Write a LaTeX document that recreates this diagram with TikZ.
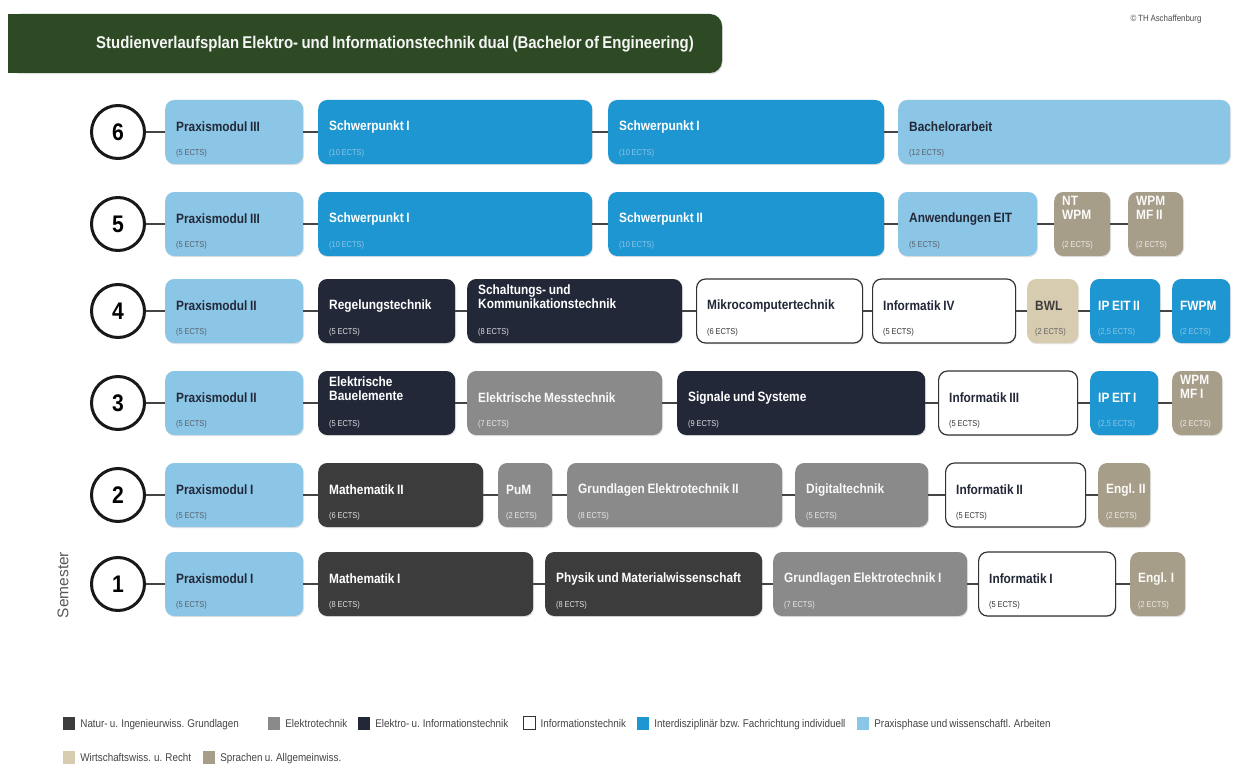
\documentclass[tikz,border=0pt]{standalone}
\usepackage{fontspec}
\setmainfont{Liberation Sans}[FakeStretch=0.88,WordSpace=0.8]
\newfontfamily\plainsans{Liberation Sans}
\usetikzlibrary{shadows}
\definecolor{hdrgreen}{HTML}{2E4A25}
\definecolor{cpr}{HTML}{8CC6E7}
\definecolor{cip}{HTML}{1E96D2}
\definecolor{cei}{HTML}{222838}
\definecolor{cng}{HTML}{3C3C3C}
\definecolor{cet}{HTML}{8A8A8A}
\definecolor{csp}{HTML}{A79E8A}
\definecolor{cwr}{HTML}{D8CCB0}
\definecolor{cinb}{HTML}{333333}
\definecolor{connc}{HTML}{444444}
\definecolor{legtxt}{HTML}{444444}
\tikzset{
  x=1pt, y=-1pt,
  modbox/.style={rectangle, rounded corners=9pt, minimum height=64pt, inner sep=0pt, draw=none,
    drop shadow={shadow xshift=0.8pt, shadow yshift=-1.2pt, opacity=0.22}},
  ttl/.style={inner sep=0pt, align=left, font=\fontsize{13.5}{14}\selectfont\bfseries},
  ects/.style={inner sep=0pt, font=\fontsize{8.5}{9}\selectfont},
  boxpr/.style={fill=cpr}, txpr/.style={text=cei}, expr/.style={text=cei!75},
  boxip/.style={fill=cip}, txip/.style={text=white}, exip/.style={text=cpr},
  boxei/.style={fill=cei}, txei/.style={text=white}, exei/.style={text=white!85!cei},
  boxng/.style={fill=cng}, txng/.style={text=white}, exng/.style={text=white!85!cng},
  boxet/.style={fill=cet}, txet/.style={text=white!95!cet}, exet/.style={text=white!80!cet},
  boxin/.style={fill=white, draw=cinb, line width=1.2pt}, txin/.style={text=cei}, exin/.style={text=cinb},
  boxsp/.style={fill=csp}, txsp/.style={text=white!95!csp}, exsp/.style={text=white!80!csp},
  boxwr/.style={fill=cwr}, txwr/.style={text=cng}, exwr/.style={text=cng!80},
  conn/.style={draw=connc, line width=1.8pt},
  semcirc/.style={circle, draw=black!90, line width=3pt, minimum size=53pt, inner sep=0pt,
    fill=white, font=\fontsize{24}{24}\selectfont\bfseries},
  legsq/.style={rectangle, minimum width=12pt, minimum height=13pt, inner sep=0pt},
  legtx/.style={inner sep=0pt, anchor=base west, text=legtxt, font=\fontsize{11.2}{12}\selectfont}
}
% #1 name #2 x1 #3 x2 #4 yc #5 cat #6 title #7 ects #8 title offset (up) #9 padding
\newcommand\modul[9]{%
  \pgfmathsetmacro\mw{#3-#2}%
  \node[modbox,box#5,minimum width=\mw pt,anchor=west] (#1) at (#2,#4) {};%
  \node[ttl,tx#5,anchor=west] at ([xshift=#9pt,yshift=#8pt]#1.west) {#6};%
  \node[ects,ex#5,anchor=west] at ([xshift=#9pt,yshift=-21pt]#1.west) {(#7)};%
}
\newcommand\legitem[5]{%
  \node[legsq,#3] (#5) at (#1,#2) {};%
  \node[legtx] at ([xshift=5pt,yshift=-4pt]#5.east) {#4};%
}
\begin{document}
\begin{tikzpicture}
\useasboundingbox (0,0) rectangle (1234,765);
\fill[white] (0,0) rectangle (1234,765);
% header
\fill[hdrgreen, rounded corners=12pt, drop shadow={shadow xshift=0.8pt, shadow yshift=-1.2pt, opacity=0.25}] (8,14) rectangle (722,73);
\fill[hdrgreen] (8,14) rectangle (60,73);
\node[text=white!95!hdrgreen, font=\fontsize{17}{18}\selectfont\bfseries] (hdr) at (395,44) {Studienverlaufsplan Elektro- und Informationstechnik dual (Bachelor of Engineering)};
\node[text=black!70, font=\fontsize{9}{10}\selectfont] (copy) at (1166,19) {© TH Aschaffenburg};
% Semester label
\node[rotate=90, text=black!65, font=\plainsans\fontsize{15.5}{16}\selectfont] (semlabel) at (63,585) {Semester};
% circles
\node[semcirc] (s6) at (118,132) {6};
\node[semcirc] (s5) at (118,224) {5};
\node[semcirc] (s4) at (118,311) {4};
\node[semcirc] (s3) at (118,403) {3};
\node[semcirc] (s2) at (118,495) {2};
\node[semcirc] (s1) at (118,584) {1};
% row 6
\modul{r6a}{165}{303}{132}{pr}{Praxismodul III}{5 ECTS}{5}{11}
\modul{r6b}{318}{592}{132}{ip}{Schwerpunkt I}{10 ECTS}{5}{11}
\modul{r6c}{608}{884}{132}{ip}{Schwerpunkt I}{10 ECTS}{5}{11}
\modul{r6d}{898}{1230}{132}{pr}{Bachelorarbeit}{12 ECTS}{5}{11}
% row 5
\modul{r5a}{165}{303}{224}{pr}{Praxismodul III}{5 ECTS}{5}{11}
\modul{r5b}{318}{592}{224}{ip}{Schwerpunkt I}{10 ECTS}{5}{11}
\modul{r5c}{608}{884}{224}{ip}{Schwerpunkt II}{10 ECTS}{5}{11}
\modul{r5d}{898}{1037}{224}{pr}{Anwendungen EIT}{5 ECTS}{5}{11}
\modul{r5e}{1054}{1110}{224}{sp}{NT\\WPM}{2 ECTS}{16}{8}
\modul{r5f}{1128}{1183}{224}{sp}{WPM\\MF II}{2 ECTS}{16}{8}
% row 4
\modul{r4a}{165}{303}{311}{pr}{Praxismodul II}{5 ECTS}{5}{11}
\modul{r4b}{318}{455}{311}{ei}{Regelungstechnik}{5 ECTS}{5}{11}
\modul{r4c}{467}{682}{311}{ei}{Schaltungs- und\\Kommunikationstechnik}{8 ECTS}{14}{11}
\modul{r4d}{696}{862}{311}{in}{Mikrocomputertechnik}{6 ECTS}{5}{11}
\modul{r4e}{872}{1015}{311}{in}{Informatik IV}{5 ECTS}{5}{11}
\modul{r4f}{1027}{1078}{311}{wr}{BWL}{2 ECTS}{5}{8}
\modul{r4g}{1090}{1160}{311}{ip}{IP EIT II}{2,5 ECTS}{5}{8}
\modul{r4h}{1172}{1230}{311}{ip}{FWPM}{2 ECTS}{5}{8}
% row 3
\modul{r3a}{165}{303}{403}{pr}{Praxismodul II}{5 ECTS}{5}{11}
\modul{r3b}{318}{455}{403}{ei}{Elektrische\\Bauelemente}{5 ECTS}{14}{11}
\modul{r3c}{467}{662}{403}{et}{Elektrische Messtechnik}{7 ECTS}{5}{11}
\modul{r3d}{677}{925}{403}{ei}{Signale und Systeme}{9 ECTS}{5}{11}
\modul{r3e}{938}{1077}{403}{in}{Informatik III}{5 ECTS}{5}{11}
\modul{r3f}{1090}{1158}{403}{ip}{IP EIT I}{2,5 ECTS}{5}{8}
\modul{r3g}{1172}{1222}{403}{sp}{WPM\\MF I}{2 ECTS}{16}{8}
% row 2
\modul{r2a}{165}{303}{495}{pr}{Praxismodul I}{5 ECTS}{5}{11}
\modul{r2b}{318}{483}{495}{ng}{Mathematik II}{6 ECTS}{5}{11}
\modul{r2c}{498}{552}{495}{et}{PuM}{2 ECTS}{5}{8}
\modul{r2d}{567}{782}{495}{et}{Grundlagen Elektrotechnik II}{8 ECTS}{5}{11}
\modul{r2e}{795}{928}{495}{et}{Digitaltechnik}{5 ECTS}{5}{11}
\modul{r2f}{945}{1085}{495}{in}{Informatik II}{5 ECTS}{5}{11}
\modul{r2g}{1098}{1150}{495}{sp}{Engl. II}{2 ECTS}{5}{8}
% row 1
\modul{r1a}{165}{303}{584}{pr}{Praxismodul I}{5 ECTS}{5}{11}
\modul{r1b}{318}{533}{584}{ng}{Mathematik I}{8 ECTS}{5}{11}
\modul{r1c}{545}{762}{584}{ng}{Physik und Materialwissenschaft}{8 ECTS}{5}{11}
\modul{r1d}{773}{967}{584}{et}{Grundlagen Elektrotechnik I}{7 ECTS}{5}{11}
\modul{r1e}{978}{1115}{584}{in}{Informatik I}{5 ECTS}{5}{11}
\modul{r1f}{1130}{1185}{584}{sp}{Engl. I}{2 ECTS}{5}{8}
% connectors
\draw[conn] (s6) -- (r6a); \draw[conn] (r6a) -- (r6b); \draw[conn] (r6b) -- (r6c); \draw[conn] (r6c) -- (r6d);
\draw[conn] (s5) -- (r5a); \draw[conn] (r5a) -- (r5b); \draw[conn] (r5b) -- (r5c); \draw[conn] (r5c) -- (r5d);
\draw[conn] (r5d) -- (r5e); \draw[conn] (r5e) -- (r5f);
\draw[conn] (s4) -- (r4a); \draw[conn] (r4a) -- (r4b); \draw[conn] (r4b) -- (r4c); \draw[conn] (r4c) -- (r4d);
\draw[conn] (r4d) -- (r4e); \draw[conn] (r4e) -- (r4f); \draw[conn] (r4f) -- (r4g); \draw[conn] (r4g) -- (r4h);
\draw[conn] (s3) -- (r3a); \draw[conn] (r3a) -- (r3b); \draw[conn] (r3b) -- (r3c); \draw[conn] (r3c) -- (r3d);
\draw[conn] (r3d) -- (r3e); \draw[conn] (r3e) -- (r3f); \draw[conn] (r3f) -- (r3g);
\draw[conn] (s2) -- (r2a); \draw[conn] (r2a) -- (r2b); \draw[conn] (r2b) -- (r2c); \draw[conn] (r2c) -- (r2d);
\draw[conn] (r2d) -- (r2e); \draw[conn] (r2e) -- (r2f); \draw[conn] (r2f) -- (r2g);
\draw[conn] (s1) -- (r1a); \draw[conn] (r1a) -- (r1b); \draw[conn] (r1b) -- (r1c); \draw[conn] (r1c) -- (r1d);
\draw[conn] (r1d) -- (r1e); \draw[conn] (r1e) -- (r1f);
% legend
\legitem{69}{723}{fill=cng}{Natur- u. Ingenieurwiss. Grundlagen}{lg1}
\legitem{274}{723}{fill=cet}{Elektrotechnik}{lg2}
\legitem{364}{723}{fill=cei}{Elektro- u. Informationstechnik}{lg3}
\legitem{529}{723}{fill=white,draw=cinb,line width=0.8pt}{Informationstechnik}{lg4}
\legitem{643}{723}{fill=cip}{Interdisziplinär bzw. Fachrichtung individuell}{lg5}
\legitem{863}{723}{fill=cpr}{Praxisphase und wissenschaftl. Arbeiten}{lg6}
\legitem{69}{757}{fill=cwr}{Wirtschaftswiss. u. Recht}{lg7}
\legitem{209}{757}{fill=csp}{Sprachen u. Allgemeinwiss.}{lg8}
\end{tikzpicture}
\end{document}
